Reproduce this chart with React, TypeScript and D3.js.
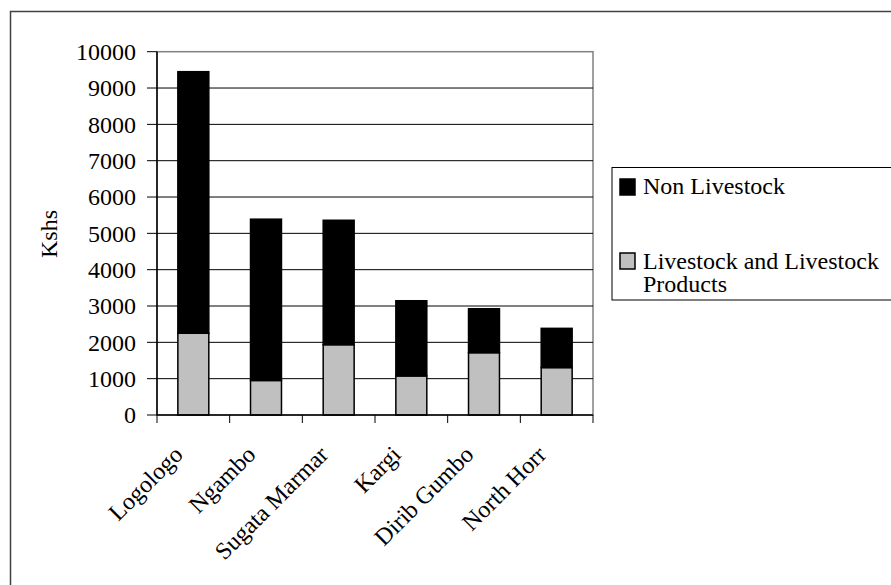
import React from "react";
import * as d3 from "d3";

const categories = ["Logologo", "Ngambo", "Sugata Marmar", "Kargi", "Dirib Gumbo", "North Horr"];
const livestock = [2250, 950, 1935, 1075, 1715, 1305];
const totals = [9450, 5390, 5360, 3145, 2925, 2385];
const nonLivestock = totals.map((t, i) => t - livestock[i]);
const yTicks = [0, 1000, 2000, 3000, 4000, 5000, 6000, 7000, 8000, 9000, 10000];
const seriesNames = ["Non Livestock", "Livestock and Livestock Products"];
const seriesColors = ["#000000", "#c0c0c0"];

const W = 891;
const H = 585;
const font = "Liberation Serif, Times New Roman, DejaVu Serif, serif";

export default function App() {
  const left = 157, right = 593, top = 51.7, bottom = 415;
  const y = d3.scaleLinear().domain([0, 10000]).range([bottom, top]);
  const x = d3.scaleBand<string>().domain(categories).range([left, right]).paddingInner(0.574).paddingOuter(0.287);
  const step = (right - left) / categories.length;

  const rows = categories.map((c, i) => ({ cat: c, livestock: livestock[i], non: nonLivestock[i] }));
  const stack = d3.stack<any>().keys(["livestock", "non"])(rows);
  const ts = { fontFamily: font, fontSize: "24px" };

  return (
    <svg width={W} height={H} style={{ position: "absolute", left: 0, top: 0, background: "#fff", fontFamily: font }}>
      <rect x={0} y={0} width={W} height={H} fill="#fff" />
      <rect x={10.5} y={11.5} width={W + 20} height={H + 20} fill="none" stroke="#404040" strokeWidth={1.5} />
      <rect x={left} y={top} width={right - left} height={bottom - top} fill="none" stroke="#808080" strokeWidth={1.5} />
      {yTicks.filter((t) => t > 0 && t < 10000).map((t) => (
        <line key={t} x1={left} x2={right} y1={y(t)} y2={y(t)} stroke="#000" strokeWidth={1} />
      ))}
      {stack.map((layer, li) =>
        layer.map((d, i) => (
          <rect
            key={`${li}-${i}`}
            x={x(categories[i])!}
            y={y(d[1])}
            width={x.bandwidth()}
            height={y(d[0]) - y(d[1])}
            fill={li === 0 ? seriesColors[1] : seriesColors[0]}
            stroke="#000"
            strokeWidth={1.5}
          />
        ))
      )}
      <line x1={left} x2={left} y1={top} y2={bottom} stroke="#000" strokeWidth={1.5} />
      {yTicks.map((t) => (
        <g key={t}>
          <line x1={left - 10} x2={left} y1={y(t)} y2={y(t)} stroke="#000" strokeWidth={1} />
          <text x={136} y={y(t)} dy="0.35em" textAnchor="end" style={ts}>{t}</text>
        </g>
      ))}
      <line x1={left} x2={right} y1={bottom} y2={bottom} stroke="#000" strokeWidth={1.5} />
      {d3.range(categories.length + 1).map((i) => (
        <line key={i} x1={left + i * step} x2={left + i * step} y1={bottom} y2={bottom + 8} stroke="#000" strokeWidth={1} />
      ))}
      {categories.map((c) => {
        const cx = x(c)! + x.bandwidth() / 2;
        return (
          <text key={c} transform={`translate(${cx - 9},${456}) rotate(-45)`} textAnchor="end" style={ts}>{c}</text>
        );
      })}
      <text transform={`translate(57,234) rotate(-90)`} textAnchor="middle" style={ts}>Kshs</text>
      <rect x={612} y={167.5} width={300} height={132.5} fill="#fff" stroke="#000" strokeWidth={1} />
      <rect x={620} y={179} width={15} height={16} fill={seriesColors[0]} stroke="#000" strokeWidth={1.5} />
      <text x={643} y={194} style={ts}>{seriesNames[0]}</text>
      <rect x={620} y={253} width={15} height={16} fill={seriesColors[1]} stroke="#000" strokeWidth={1.5} />
      <text x={643} y={269} style={ts}>Livestock and Livestock</text>
      <text x={643} y={292} style={ts}>Products</text>
    </svg>
  );
}
